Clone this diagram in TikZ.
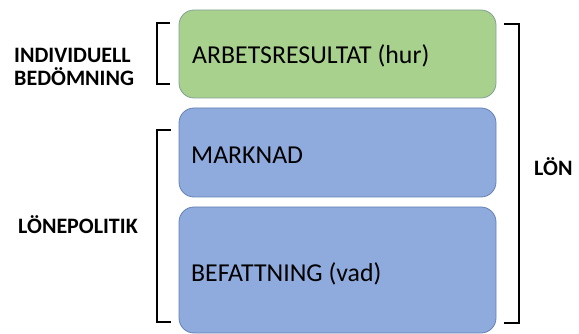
\documentclass[tikz,border=0pt]{standalone}
\usepackage{fontspec}
\setmainfont{Carlito}
\definecolor{greenfill}{RGB}{169,209,142}
\definecolor{greenline}{RGB}{130,160,150}
\definecolor{bluefill}{RGB}{143,170,220}
\definecolor{blueline}{RGB}{100,130,180}
\begin{document}
\begin{tikzpicture}[x=1pt,y=-1pt,
  box/.style={rounded corners=15pt,line width=0.8pt},
  boxtext/.style={anchor=west,inner sep=0pt,font=\fontsize{25.8}{30}\selectfont},
  lbl/.style={inner sep=0pt,font=\fontsize{22}{23.5}\bfseries\selectfont,align=left},
  brk/.style={line width=1.6pt,black}]
\useasboundingbox (0,0) rectangle (579,334);
\begin{scope}
\clip (0,0) rectangle (579,334);
\filldraw[box,fill=greenfill,draw=greenline] (179,10) rectangle (496,98);
\filldraw[box,fill=bluefill,draw=blueline] (179,108) rectangle (496,197);
\filldraw[box,fill=bluefill,draw=blueline] (179,207) rectangle (496,333);
\end{scope}
\node[boxtext] (arb) at (192,56) {ARBETSRESULTAT (hur)};
\node[boxtext] (mark) at (191,155) {MARKNAD};
\node[boxtext] (bef) at (191,274) {BEFATTNING (vad)};
\node[lbl,anchor=west] (ind) at (14,67) {INDIVIDUELL\\BEDÖMNING};
\node[lbl,anchor=west] (lp) at (18,225) {LÖNEPOLITIK};
\node[lbl,anchor=west] (lon) at (534,167) {LÖN};
\draw[brk] (170,23) -- (157,23) -- (157,84) -- (170,84);
\draw[brk] (171,130) -- (157,130) -- (157,322) -- (171,322);
\draw[brk] (504,24) -- (519,24) -- (519,323) -- (504,323);
\end{tikzpicture}
\end{document}
